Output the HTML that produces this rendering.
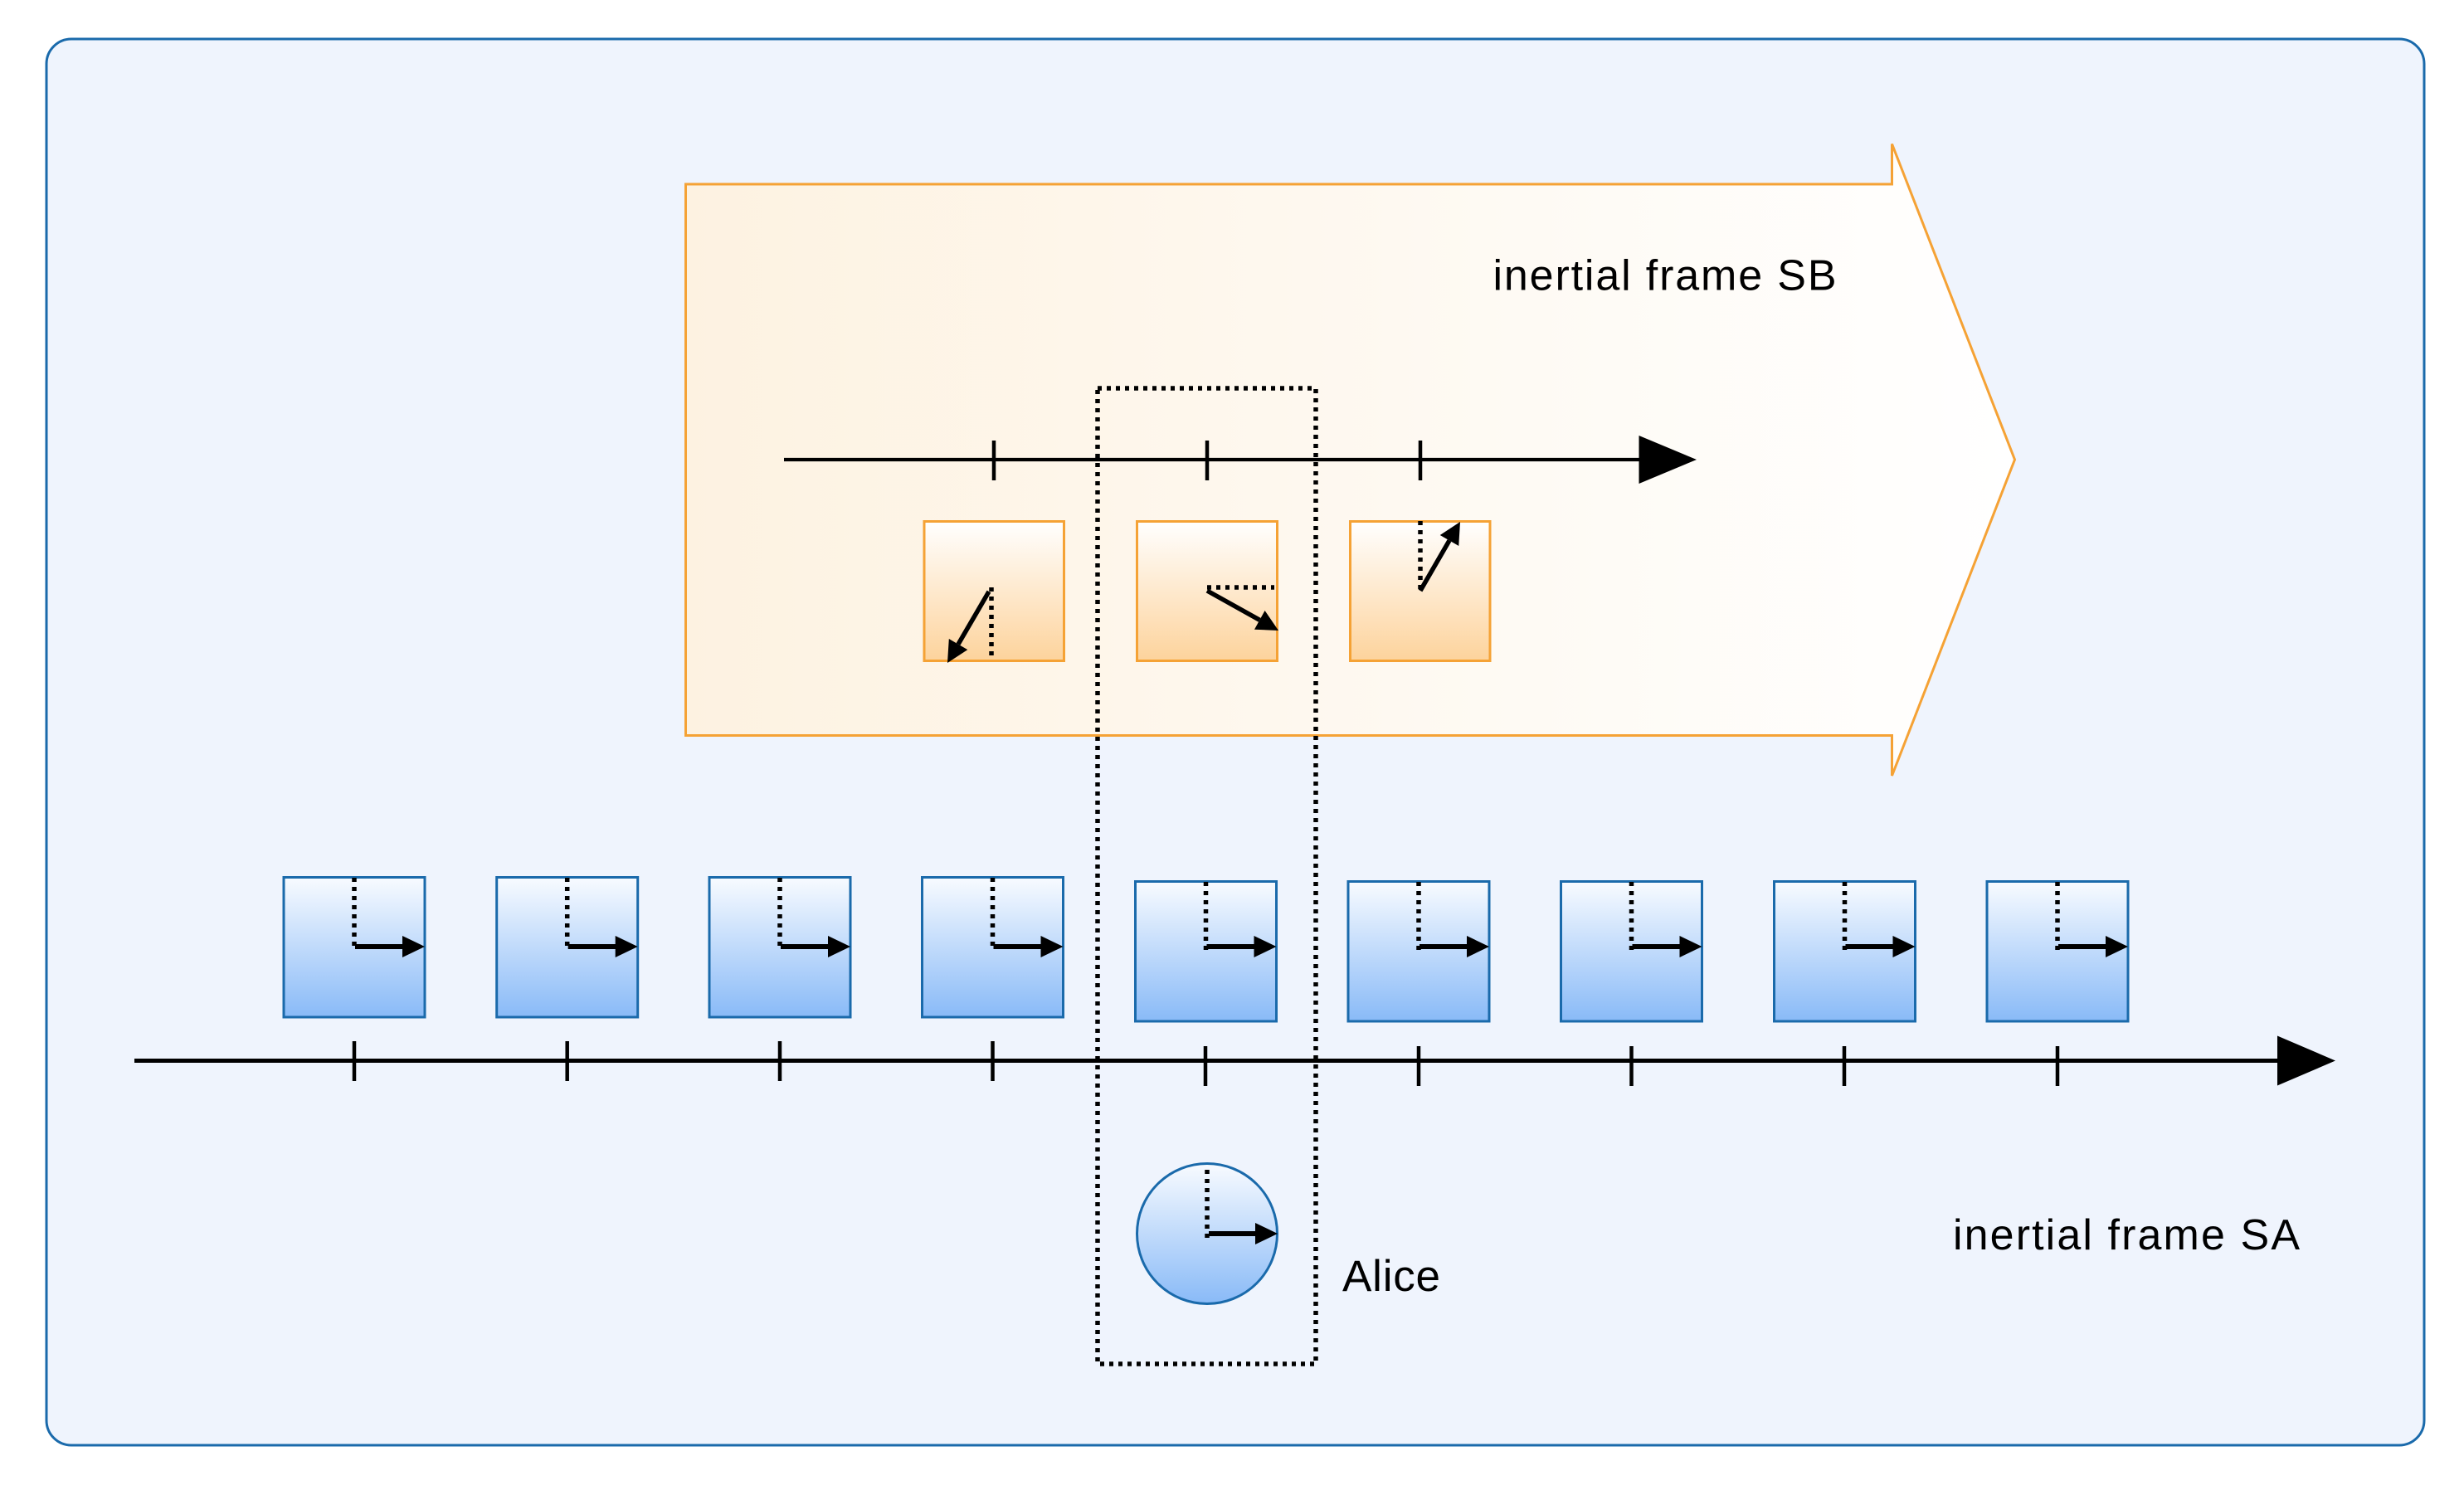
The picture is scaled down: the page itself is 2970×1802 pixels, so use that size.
<!DOCTYPE html>
<html>
<head>
<meta charset="utf-8">
<style>
  html, body { margin: 0; padding: 0; background: #ffffff; }
  svg { display: block; }
  text { font-family: "Liberation Sans", "DejaVu Sans", sans-serif; fill: #000; }
</style>
</head>
<body>
<svg width="2970" height="1802" viewBox="0 0 2970 1802" xmlns="http://www.w3.org/2000/svg">
  <defs>
    <linearGradient id="gOrangeArrow" x1="0" y1="0" x2="1" y2="0">
      <stop offset="0" stop-color="#fdf2e1"/>
      <stop offset="1" stop-color="#ffffff"/>
    </linearGradient>
    <linearGradient id="gOrangeBox" x1="0" y1="0" x2="0" y2="1">
      <stop offset="0" stop-color="#ffffff"/>
      <stop offset="1" stop-color="#fdd39c"/>
    </linearGradient>
    <linearGradient id="gBlue" x1="0" y1="0" x2="0" y2="1">
      <stop offset="0" stop-color="#f8fbff"/>
      <stop offset="1" stop-color="#89baf7"/>
    </linearGradient>
  </defs>

  <!-- outer frame -->
  <rect x="56" y="47" width="2866" height="1695" rx="30" ry="30" fill="#eff4fd" stroke="#1a6aab" stroke-width="3"/>

  <!-- big orange arrow (inertial frame SB) -->
  <polygon points="826.5,222 2280.5,222 2280.5,173.5 2428.5,554 2280.5,935 2280.5,886.5 826.5,886.5"
           fill="url(#gOrangeArrow)" stroke="#f5a235" stroke-width="3" stroke-linejoin="miter"/>

  <text x="1799.5" y="349.7" font-size="52" textLength="414" lengthAdjust="spacing">inertial frame SB</text>

  <!-- top axis -->
  <line x1="945" y1="554" x2="1978" y2="554" stroke="#000" stroke-width="4.3"/>
  <polygon points="1975.5,525 2045,554 1975.5,583" fill="#000"/>
  <line x1="1198" y1="531" x2="1198" y2="579" stroke="#000" stroke-width="4.5"/>
  <line x1="1455" y1="531" x2="1455" y2="579" stroke="#000" stroke-width="4.5"/>
  <line x1="1712" y1="531" x2="1712" y2="579" stroke="#000" stroke-width="4.5"/>

  <!-- orange clocks -->
  <rect x="1114" y="628.5" width="168.5" height="168" fill="url(#gOrangeBox)" stroke="#f5a235" stroke-width="3"/>
  <rect x="1370.5" y="628.5" width="169" height="168" fill="url(#gOrangeBox)" stroke="#f5a235" stroke-width="3"/>
  <rect x="1627.5" y="628.5" width="168.5" height="168" fill="url(#gOrangeBox)" stroke="#f5a235" stroke-width="3"/>

  <!-- clock 1 hands -->
  <line x1="1195" y1="708" x2="1195" y2="792" stroke="#000" stroke-width="5.5" stroke-dasharray="5 6"/>
  <line x1="1192" y1="713" x2="1155" y2="776.5" stroke="#000" stroke-width="5.5"/>
  <polygon points="1166.3,783.1 1142,799 1143.8,770.0" fill="#000"/>
  <!-- clock 2 hands -->
  <line x1="1455" y1="708" x2="1536" y2="708" stroke="#000" stroke-width="5.5" stroke-dasharray="5 6"/>
  <line x1="1455" y1="712" x2="1518.3" y2="747.3" stroke="#000" stroke-width="5.5"/>
  <polygon points="1512.0,758.7 1541,760 1524.6,736.0" fill="#000"/>
  <!-- clock 3 hands -->
  <line x1="1712" y1="628" x2="1712" y2="710" stroke="#000" stroke-width="5.5" stroke-dasharray="5 6"/>
  <line x1="1712" y1="712" x2="1747" y2="651.5" stroke="#000" stroke-width="5.5"/>
  <polygon points="1758.25,658.0 1760,629 1735.75,645.0" fill="#000"/>

  <!-- blue clocks row -->
  <g stroke="#1a6aab" stroke-width="3" fill="url(#gBlue)">
    <rect x="342" y="1057.5" width="170" height="168.5"/>
    <rect x="598.7" y="1057.5" width="170" height="168.5"/>
    <rect x="855" y="1057.5" width="170" height="168.5"/>
    <rect x="1111.5" y="1057.5" width="170" height="168.5"/>
    <rect x="1368.5" y="1062.5" width="170" height="168.5"/>
    <rect x="1625" y="1062.5" width="170" height="168.5"/>
    <rect x="1881.5" y="1062.5" width="170" height="168.5"/>
    <rect x="2138.5" y="1062.5" width="170" height="168.5"/>
    <rect x="2395" y="1062.5" width="170" height="168.5"/>
  </g>

  <!-- blue clock hands -->
  <g stroke="#000" stroke-width="5.5" stroke-dasharray="5 6">
    <line x1="427" y1="1058" x2="427" y2="1142"/>
    <line x1="683.7" y1="1058" x2="683.7" y2="1142"/>
    <line x1="940" y1="1058" x2="940" y2="1142"/>
    <line x1="1196.5" y1="1058" x2="1196.5" y2="1142"/>
    <line x1="1453.5" y1="1063" x2="1453.5" y2="1147"/>
    <line x1="1710" y1="1063" x2="1710" y2="1147"/>
    <line x1="1966.5" y1="1063" x2="1966.5" y2="1147"/>
    <line x1="2223.5" y1="1063" x2="2223.5" y2="1147"/>
    <line x1="2480" y1="1063" x2="2480" y2="1147"/>
  </g>
  <g stroke="#000" stroke-width="6">
    <line x1="428" y1="1141" x2="486" y2="1141"/>
    <line x1="684.7" y1="1141" x2="742.7" y2="1141"/>
    <line x1="941" y1="1141" x2="999" y2="1141"/>
    <line x1="1197.5" y1="1141" x2="1255.5" y2="1141"/>
    <line x1="1454.5" y1="1141" x2="1512.5" y2="1141"/>
    <line x1="1711" y1="1141" x2="1769" y2="1141"/>
    <line x1="1967.5" y1="1141" x2="2025.5" y2="1141"/>
    <line x1="2224.5" y1="1141" x2="2282.5" y2="1141"/>
    <line x1="2481" y1="1141" x2="2539" y2="1141"/>
  </g>
  <g fill="#000">
    <polygon points="485,1128 512,1141 485,1154"/>
    <polygon points="741.7,1128 768.7,1141 741.7,1154"/>
    <polygon points="998,1128 1025,1141 998,1154"/>
    <polygon points="1254.5,1128 1281.5,1141 1254.5,1154"/>
    <polygon points="1511.5,1128 1538.5,1141 1511.5,1154"/>
    <polygon points="1768,1128 1795,1141 1768,1154"/>
    <polygon points="2024.5,1128 2051.5,1141 2024.5,1154"/>
    <polygon points="2281.5,1128 2308.5,1141 2281.5,1154"/>
    <polygon points="2538,1128 2565,1141 2538,1154"/>
  </g>

  <!-- bottom axis -->
  <line x1="162" y1="1278.5" x2="2748" y2="1278.5" stroke="#000" stroke-width="5"/>
  <polygon points="2745,1248.5 2815,1278.5 2745,1308.5" fill="#000"/>
  <g stroke="#000" stroke-width="4.5">
    <line x1="427" y1="1255" x2="427" y2="1303"/>
    <line x1="683.7" y1="1255" x2="683.7" y2="1303"/>
    <line x1="940" y1="1255" x2="940" y2="1303"/>
    <line x1="1196.5" y1="1255" x2="1196.5" y2="1303"/>
    <line x1="1453" y1="1261" x2="1453" y2="1309"/>
    <line x1="1710" y1="1261" x2="1710" y2="1309"/>
    <line x1="1966.5" y1="1261" x2="1966.5" y2="1309"/>
    <line x1="2223" y1="1261" x2="2223" y2="1309"/>
    <line x1="2480" y1="1261" x2="2480" y2="1309"/>
  </g>

  <!-- Alice clock -->
  <ellipse cx="1455" cy="1487" rx="84.5" ry="84.5" fill="url(#gBlue)" stroke="#1a6aab" stroke-width="3"/>
  <line x1="1455" y1="1410" x2="1455" y2="1494" stroke="#000" stroke-width="5.5" stroke-dasharray="5 6"/>
  <line x1="1457" y1="1487" x2="1516" y2="1487" stroke="#000" stroke-width="6"/>
  <polygon points="1513,1474 1540,1487 1513,1500" fill="#000"/>

  <text x="1618" y="1556" font-size="53" textLength="118" lengthAdjust="spacing">Alice</text>

  <text x="2354" y="1506" font-size="52" textLength="418" lengthAdjust="spacing">inertial frame SA</text>

  <!-- dotted selection rectangle -->
  <rect x="1323" y="468" width="263" height="1176" fill="none" stroke="#000" stroke-width="5.5" stroke-dasharray="5 6"/>
</svg>
</body>
</html>
